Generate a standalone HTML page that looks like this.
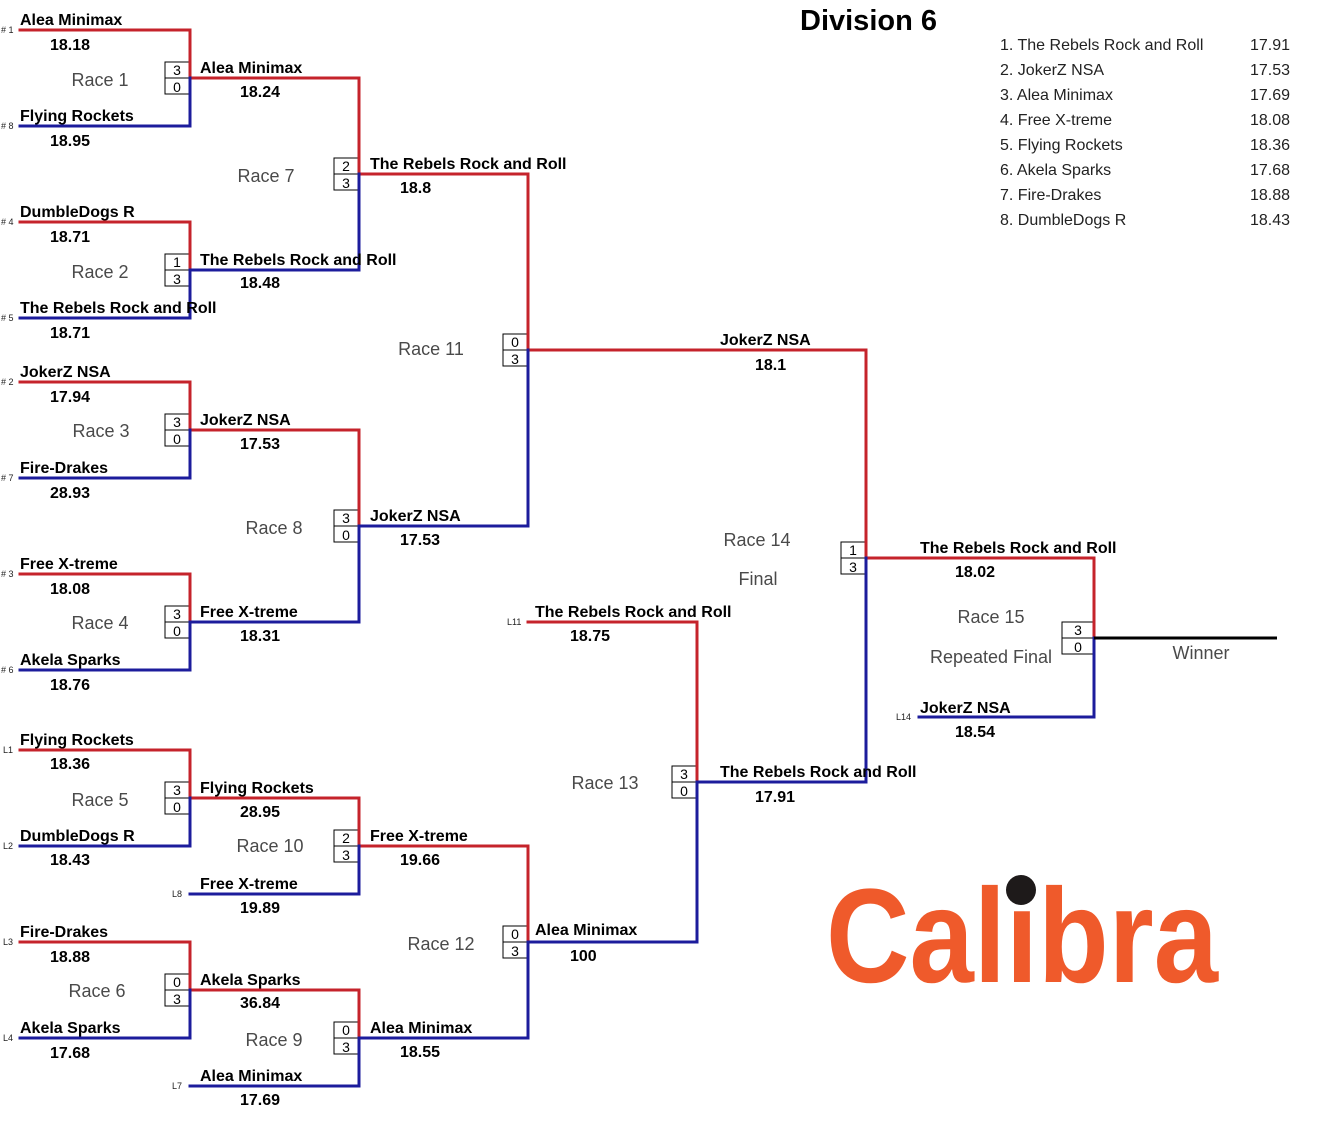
<!DOCTYPE html>
<html><head><meta charset="utf-8"><style>
html,body{margin:0;padding:0;background:#fff;}
svg{display:block;}
text{font-family:"Liberation Sans",Arial,sans-serif;}
.n{font-size:16px;font-weight:bold;fill:#000;}
.s{font-size:9px;fill:#222;}
.r{font-size:18px;fill:#4a4a4a;}
.b{font-size:14px;fill:#000;}
.st{font-size:16px;fill:#222;}
.R{stroke:#c5232b;stroke-width:3;stroke-linecap:square;fill:none;}
.B{stroke:#1c1c9c;stroke-width:3;stroke-linecap:square;fill:none;}
.bx{fill:#fff;stroke:#000;stroke-width:1;}
</style></head><body>
<svg width="1331" height="1122" viewBox="0 0 1331 1122" xmlns="http://www.w3.org/2000/svg">
<rect width="1331" height="1122" fill="#fff"/>

<!-- boxes -->
<g class="bx">
<rect x="165" y="62" width="25" height="32"/><line x1="165" y1="78" x2="190" y2="78" stroke="#000"/>
<rect x="165" y="254" width="25" height="32"/><line x1="165" y1="270" x2="190" y2="270" stroke="#000"/>
<rect x="165" y="414" width="25" height="32"/><line x1="165" y1="430" x2="190" y2="430" stroke="#000"/>
<rect x="165" y="606" width="25" height="32"/><line x1="165" y1="622" x2="190" y2="622" stroke="#000"/>
<rect x="165" y="782" width="25" height="32"/><line x1="165" y1="798" x2="190" y2="798" stroke="#000"/>
<rect x="165" y="974" width="25" height="32"/><line x1="165" y1="990" x2="190" y2="990" stroke="#000"/>
<rect x="334" y="158" width="25" height="32"/><line x1="334" y1="174" x2="359" y2="174" stroke="#000"/>
<rect x="334" y="510" width="25" height="32"/><line x1="334" y1="526" x2="359" y2="526" stroke="#000"/>
<rect x="334" y="830" width="25" height="32"/><line x1="334" y1="846" x2="359" y2="846" stroke="#000"/>
<rect x="334" y="1022" width="25" height="32"/><line x1="334" y1="1038" x2="359" y2="1038" stroke="#000"/>
<rect x="503" y="334" width="25" height="32"/><line x1="503" y1="350" x2="528" y2="350" stroke="#000"/>
<rect x="503" y="926" width="25" height="32"/><line x1="503" y1="942" x2="528" y2="942" stroke="#000"/>
<rect x="672" y="766" width="25" height="32"/><line x1="672" y1="782" x2="697" y2="782" stroke="#000"/>
<rect x="841" y="542" width="25" height="32"/><line x1="841" y1="558" x2="866" y2="558" stroke="#000"/>
<rect x="1062" y="622" width="32" height="32"/><line x1="1062" y1="638" x2="1094" y2="638" stroke="#000"/>
</g>

<!-- red lines -->
<path class="R" d="M20 30H190M20 222H190M20 382H190M20 574H190M20 750H190M20 942H190
M190 78H359M190 430H359M190 798H359M190 990H359
M359 174H528M359 846H528
M528 350H866M528 622H697M866 558H1094
M190 30V78M190 222V270M190 382V430M190 574V622M190 750V798M190 942V990
M359 78V174M359 430V526M359 798V846M359 990V1038
M528 174V350M528 846V942M697 622V782M866 350V558M1094 558V638"/>
<!-- blue lines -->
<path class="B" d="M20 126H190M20 318H190M20 478H190M20 670H190M20 846H190M20 1038H190
M190 270H359M190 622H359M190 894H359M190 1086H359
M359 526H528M359 1038H528M528 942H697M697 782H866M919 717H1094
M190 78V126M190 270V318M190 430V478M190 622V670M190 798V846M190 990V1038
M359 174V270M359 526V622M359 846V894M359 1038V1086
M528 350V526M528 942V1038M697 782V942M866 558V782M1094 638V717"/>
<line x1="1094" y1="638" x2="1277" y2="638" stroke="#000" stroke-width="3"/>

<!-- box numbers -->
<g class="b" text-anchor="middle">
<text x="177" y="75">3</text><text x="177" y="92">0</text>
<text x="177" y="267">1</text><text x="177" y="284">3</text>
<text x="177" y="427">3</text><text x="177" y="444">0</text>
<text x="177" y="619">3</text><text x="177" y="636">0</text>
<text x="177" y="795">3</text><text x="177" y="812">0</text>
<text x="177" y="987">0</text><text x="177" y="1004">3</text>
<text x="346" y="171">2</text><text x="346" y="188">3</text>
<text x="346" y="523">3</text><text x="346" y="540">0</text>
<text x="346" y="843">2</text><text x="346" y="860">3</text>
<text x="346" y="1035">0</text><text x="346" y="1052">3</text>
<text x="515" y="347">0</text><text x="515" y="364">3</text>
<text x="515" y="939">0</text><text x="515" y="956">3</text>
<text x="684" y="779">3</text><text x="684" y="796">0</text>
<text x="853" y="555">1</text><text x="853" y="572">3</text>
<text x="1078" y="635">3</text><text x="1078" y="652">0</text>
</g>

<!-- seed labels -->
<g class="s">
<text x="1" y="33"># 1</text><text x="1" y="129"># 8</text>
<text x="1" y="225"># 4</text><text x="1" y="321"># 5</text>
<text x="1" y="385"># 2</text><text x="1" y="481"># 7</text>
<text x="1" y="577"># 3</text><text x="1" y="673"># 6</text>
<text x="3" y="753">L1</text><text x="3" y="849">L2</text>
<text x="3" y="945">L3</text><text x="3" y="1041">L4</text>
<text x="172" y="897">L8</text><text x="172" y="1089">L7</text>
<text x="507" y="625">L11</text><text x="896" y="720">L14</text>
</g>

<!-- team names -->
<g class="n">
<text x="20" y="25">Alea Minimax</text><text x="50" y="50">18.18</text>
<text x="20" y="121">Flying Rockets</text><text x="50" y="146">18.95</text>
<text x="20" y="217">DumbleDogs R</text><text x="50" y="242">18.71</text>
<text x="20" y="313">The Rebels Rock and Roll</text><text x="50" y="338">18.71</text>
<text x="20" y="377">JokerZ NSA</text><text x="50" y="402">17.94</text>
<text x="20" y="473">Fire-Drakes</text><text x="50" y="498">28.93</text>
<text x="20" y="569">Free X-treme</text><text x="50" y="594">18.08</text>
<text x="20" y="665">Akela Sparks</text><text x="50" y="690">18.76</text>
<text x="20" y="745">Flying Rockets</text><text x="50" y="769">18.36</text>
<text x="20" y="841">DumbleDogs R</text><text x="50" y="865">18.43</text>
<text x="20" y="937">Fire-Drakes</text><text x="50" y="962">18.88</text>
<text x="20" y="1033">Akela Sparks</text><text x="50" y="1058">17.68</text>

<text x="200" y="73">Alea Minimax</text><text x="240" y="97">18.24</text>
<text x="200" y="265">The Rebels Rock and Roll</text><text x="240" y="288">18.48</text>
<text x="200" y="425">JokerZ NSA</text><text x="240" y="449">17.53</text>
<text x="200" y="617">Free X-treme</text><text x="240" y="641">18.31</text>
<text x="200" y="793">Flying Rockets</text><text x="240" y="817">28.95</text>
<text x="200" y="889">Free X-treme</text><text x="240" y="913">19.89</text>
<text x="200" y="985">Akela Sparks</text><text x="240" y="1008">36.84</text>
<text x="200" y="1081">Alea Minimax</text><text x="240" y="1105">17.69</text>

<text x="370" y="169">The Rebels Rock and Roll</text><text x="400" y="193">18.8</text>
<text x="370" y="521">JokerZ NSA</text><text x="400" y="545">17.53</text>
<text x="370" y="841">Free X-treme</text><text x="400" y="865">19.66</text>
<text x="370" y="1033">Alea Minimax</text><text x="400" y="1057">18.55</text>

<text x="720" y="345">JokerZ NSA</text><text x="755" y="370">18.1</text>
<text x="535" y="617">The Rebels Rock and Roll</text><text x="570" y="641">18.75</text>
<text x="535" y="935">Alea Minimax</text><text x="570" y="961">100</text>
<text x="720" y="777">The Rebels Rock and Roll</text><text x="755" y="802">17.91</text>
<text x="920" y="553">The Rebels Rock and Roll</text><text x="955" y="577">18.02</text>
<text x="920" y="713">JokerZ NSA</text><text x="955" y="737">18.54</text>
</g>

<!-- race labels -->
<g class="r" text-anchor="middle">
<text x="100" y="86">Race 1</text>
<text x="100" y="278">Race 2</text>
<text x="101" y="437">Race 3</text>
<text x="100" y="629">Race 4</text>
<text x="100" y="806">Race 5</text>
<text x="97" y="997">Race 6</text>
<text x="266" y="182">Race 7</text>
<text x="274" y="534">Race 8</text>
<text x="274" y="1046">Race 9</text>
<text x="270" y="852">Race 10</text>
<text x="431" y="355">Race 11</text>
<text x="441" y="950">Race 12</text>
<text x="605" y="789">Race 13</text>
<text x="757" y="546">Race 14</text>
<text x="758" y="585">Final</text>
<text x="991" y="623">Race 15</text>
<text x="991" y="663">Repeated Final</text>
<text x="1201" y="659">Winner</text>
</g>

<!-- title -->
<text x="800" y="30" style="font-size:29px;font-weight:bold;fill:#000;">Division 6</text>

<!-- standings -->
<g class="st">
<text x="1000" y="50">1. The Rebels Rock and Roll</text><text x="1250" y="50">17.91</text>
<text x="1000" y="75">2. JokerZ NSA</text><text x="1250" y="75">17.53</text>
<text x="1000" y="100">3. Alea Minimax</text><text x="1250" y="100">17.69</text>
<text x="1000" y="125">4. Free X-treme</text><text x="1250" y="125">18.08</text>
<text x="1000" y="150">5. Flying Rockets</text><text x="1250" y="150">18.36</text>
<text x="1000" y="175">6. Akela Sparks</text><text x="1250" y="175">17.68</text>
<text x="1000" y="200">7. Fire-Drakes</text><text x="1250" y="200">18.88</text>
<text x="1000" y="225">8. DumbleDogs R</text><text x="1250" y="225">18.43</text>
</g>

<!-- logo -->
<text x="826" y="982" textLength="392" lengthAdjust="spacingAndGlyphs" style="font-size:134px;font-weight:bold;fill:#ef5a2b;">Calibra</text>
<circle cx="1021" cy="890" r="15" fill="#1e1a1a"/>
</svg>
</body></html>
